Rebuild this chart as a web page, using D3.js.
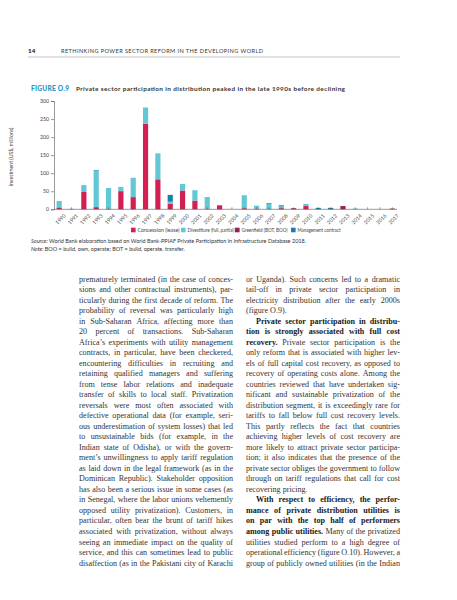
<!DOCTYPE html>
<html>
<head>
<meta charset="utf-8">
<script src="https://cdn.jsdelivr.net/npm/d3@7"></script>
<style>
  body { margin: 0; background: #fff; }
  svg { display: block; }
</style>
</head>
<body>
<div id="page"></div>
<script>
// chart data (US$, millions)
const years = d3.range(1990, 2018).map(String);
const concession  = [5, 1, 48, 6, 2, 49, 32, 237, 83, 16, 52, 24, 2, 11, 0, 3, 2, 0, 0, 0, 9, 0, 0, 0, 0, 0, 0, 0];
const greenfield  = [0, 0, 0, 0, 0, 2, 2, 0, 0, 0, 0, 0, 0, 0, 0, 0, 0, 0, 3, 3, 0, 0, 0, 9, 0, 0, 0, 2];
const divestiture = [18, 0, 19, 100, 57, 11, 52, 45, 72, 5, 18, 29, 32, 0, 0, 36, 8, 15, 5, 0, 6, 0, 0, 0, 2, 0, 0, 0];
const management  = [0, 0, 0, 2, 0, 0, 1, 0, 0, 19, 0, 0, 0, 0, 0, 0, 0, 2, 3, 0, 0, 4, 4, 0, 0, 0, 0, 0];
const yTicks = [0, 50, 100, 150, 200, 250, 300];

const seriesKeys = ["concession", "greenfield", "divestiture", "management"];
const legendKeys = ["concession", "divestiture", "greenfield", "management"];
const legendLabels = {
  concession: "Concession (lease)",
  divestiture: "Divestiture (full, partial)",
  greenfield: "Greenfield (BOT, BOO)",
  management: "Management contract"
};
const colors = {
  concession: "#d31f52",
  divestiture: "#62c8d6",
  greenfield: "#9c2049",
  management: "#1b7fa8"
};

// body text, one entry per printed line; **...** is bold
const leftLines = [
  "prematurely terminated (in the case of conces-",
  "sions and other contractual instruments), par-",
  "ticularly during the first decade of reform. The",
  "probability of reversal was particularly high",
  "in Sub-Saharan Africa, affecting more than",
  "20 percent of transactions. Sub-Saharan",
  "Africa’s experiments with utility management",
  "contracts, in particular, have been checkered,",
  "encountering difficulties in recruiting and",
  "retaining qualified managers and suffering",
  "from tense labor relations and inadequate",
  "transfer of skills to local staff. Privatization",
  "reversals were most often associated with",
  "defective operational data (for example, seri-",
  "ous underestimation of system losses) that led",
  "to unsustainable bids (for example, in the",
  "Indian state of Odisha), or with the govern-",
  "ment’s unwillingness to apply tariff regulation",
  "as laid down in the legal framework (as in the",
  "Dominican Republic). Stakeholder opposition",
  "has also been a serious issue in some cases (as",
  "in Senegal, where the labor unions vehemently",
  "opposed utility privatization). Customers, in",
  "particular, often bear the brunt of tariff hikes",
  "associated with privatization, without always",
  "seeing an immediate impact on the quality of",
  "service, and this can sometimes lead to public",
  "disaffection (as in the Pakistani city of Karachi"
];
const rightLines = [
  "or Uganda). Such concerns led to a dramatic",
  "tail-off in private sector participation in",
  "electricity distribution after the early 2000s",
  "(figure O.9).|last",
  "**Private sector participation in distribu-**|indent",
  "**tion is strongly associated with full cost**",
  "**recovery.** Private sector participation is the",
  "only reform that is associated with higher lev-",
  "els of full capital cost recovery, as opposed to",
  "recovery of operating costs alone. Among the",
  "countries reviewed that have undertaken sig-",
  "nificant and sustainable privatization of the",
  "distribution segment, it is exceedingly rare for",
  "tariffs to fall below full cost recovery levels.",
  "This partly reflects the fact that countries",
  "achieving higher levels of cost recovery are",
  "more likely to attract private sector participa-",
  "tion; it also indicates that the presence of the",
  "private sector obliges the government to follow",
  "through on tariff regulations that call for cost",
  "recovering pricing.|last",
  "**With respect to efficiency, the perfor-**|indent",
  "**mance of private distribution utilities is**",
  "**on par with the top half of performers**",
  "**among public utilities.** Many of the privatized",
  "utilities studied perform to a high degree of",
  "operational efficiency (figure O.10). However, a",
  "group of publicly owned utilities (in the Indian"
];

const width = 457, height = 600;
const sans = "Lato, 'Open Sans', sans-serif";
const serif = "'Liberation Serif', 'Times New Roman', serif";

const svg = d3.select("#page").append("svg")
    .attr("width", width)
    .attr("height", height);

// running header
svg.append("text")
    .attr("x", 28).attr("y", 53)
    .style("font-family", sans).style("font-weight", 900)
    .style("font-size", "6.3px").attr("fill", "#222")
    .text("14");
svg.append("text")
    .attr("x", 61).attr("y", 53)
    .attr("textLength", 202).attr("lengthAdjust", "spacing")
    .style("font-family", sans).style("font-size", "5.6px")
    .attr("fill", "#333")
    .text("RETHINKING POWER SECTOR REFORM IN THE DEVELOPING WORLD");
svg.append("line")
    .attr("x1", 28).attr("x2", 400).attr("y1", 57).attr("y2", 57)
    .attr("stroke", "#bbb").attr("stroke-width", 0.9);

// figure title
svg.append("text")
    .attr("x", 31).attr("y", 91)
    .attr("textLength", 38).attr("lengthAdjust", "spacing")
    .style("font-family", sans).style("font-weight", 900)
    .style("font-size", "6.6px").attr("fill", "#2595c4")
    .text("FIGURE O.9");
svg.append("text")
    .attr("x", 76).attr("y", 91)
    .attr("textLength", 269).attr("lengthAdjust", "spacing")
    .style("font-family", sans).style("font-weight", 700)
    .style("font-size", "6.4px").attr("fill", "#333")
    .text("Private sector participation in distribution peaked in the late 1990s before declining");

// chart
const x = d3.scaleBand().domain(years).range([53.5, 398])
    .paddingInner(0.58).paddingOuter(0.25);
const y = d3.scaleLinear().domain([0, 300]).range([209.3, 101]);

const table = years.map((yr, i) => ({
  year: yr,
  concession: concession[i],
  greenfield: greenfield[i],
  divestiture: divestiture[i],
  management: management[i]
}));
const stacked = d3.stack().keys(seriesKeys)(table);

svg.append("g").selectAll("g")
  .data(stacked)
  .join("g")
    .attr("fill", d => colors[d.key])
  .selectAll("rect")
  .data(d => d)
  .join("rect")
    .attr("x", d => x(d.data.year))
    .attr("width", x.bandwidth())
    .attr("y", d => y(d[1]))
    .attr("height", d => y(d[0]) - y(d[1]));

const yAxis = svg.append("g")
    .attr("transform", "translate(54,0)")
    .call(d3.axisLeft(y).tickValues(yTicks).tickSize(3).tickPadding(2));
const xAxis = svg.append("g")
    .attr("transform", "translate(0,209.3)")
    .call(d3.axisBottom(x).tickSize(2).tickSizeOuter(0).tickPadding(2));
[yAxis, xAxis].forEach(a => {
  a.select(".domain").attr("stroke", "#555").attr("stroke-width", 0.6);
  a.selectAll(".tick line").attr("stroke", "#555").attr("stroke-width", 0.6);
  a.selectAll("text").style("font-family", sans).style("font-size", "5.2px")
    .attr("fill", "#444");
});
xAxis.select(".domain").attr("d", "M54,0H397");
xAxis.selectAll(".tick line").attr("y2", -2);
xAxis.selectAll(".tick text")
    .attr("text-anchor", "end")
    .attr("dy", "0.3em")
    .attr("transform", "translate(3,3) rotate(-45)");

svg.append("text")
    .attr("transform", "translate(13,157) rotate(-90)")
    .attr("text-anchor", "middle")
    .style("font-family", sans).style("font-size", "5.2px")
    .attr("fill", "#444")
    .text("Investment (US$, millions)");

// legend
const legendX = [131, 181, 235, 291];
const legendW = [42, 47, 46, 43];
const legend = svg.append("g").selectAll("g")
  .data(legendKeys)
  .join("g")
    .attr("transform", (d, i) => `translate(${legendX[i]},230)`);
legend.append("rect")
    .attr("x", 0).attr("y", -2.3).attr("width", 4.6).attr("height", 4.6)
    .attr("fill", d => colors[d]);
legend.append("text")
    .attr("x", 6.5).attr("y", 1.8)
    .attr("textLength", (d, i) => legendW[i]).attr("lengthAdjust", "spacingAndGlyphs")
    .style("font-family", sans).style("font-size", "5px")
    .attr("fill", "#444")
    .text(d => legendLabels[d]);

// source and note
const src = svg.append("text").attr("x", 31).attr("y", 243)
    .style("font-family", sans).style("font-size", "5.5px").attr("fill", "#333");
src.append("tspan").style("font-style", "italic").text("Source: ");
src.append("tspan").text("World Bank elaboration based on World Bank-PPIAF Private Participation in Infrastructure Database 2018.");
const note = svg.append("text").attr("x", 31).attr("y", 250.5)
    .style("font-family", sans).style("font-size", "5.5px").attr("fill", "#333");
note.append("tspan").style("font-style", "italic").text("Note: ");
note.append("tspan").text("BOO = build, own, operate; BOT = build, operate, transfer.");

// justified body text
const bodySize = 8.1;
const measure = svg.append("text").style("font-family", serif)
    .style("font-size", bodySize + "px").attr("opacity", 0);
function wordWidth(w, bold) {
  measure.style("font-weight", bold ? 700 : 400).text(w);
  return measure.node().getComputedTextLength();
}
function drawColumn(lines, x0, colW, y0, lh) {
  const g = svg.append("g");
  lines.forEach((raw, li) => {
    const [body, flag] = raw.split("|");
    const indent = flag === "indent" ? 10 : 0;
    const justify = flag !== "last";
    const words = [];
    body.split("**").forEach((chunk, ci) => {
      chunk.split(" ").filter(s => s.length).forEach(w => {
        words.push({ w, bold: ci % 2 === 1 });
      });
    });
    words.forEach(d => d.width = wordWidth(d.w, d.bold));
    const total = d3.sum(words, d => d.width);
    const space = wordWidth("a a", false) - wordWidth("aa", false);
    const gap = justify && words.length > 1
      ? (colW - indent - total) / (words.length - 1) : space;
    let cx = x0 + indent;
    const yy = y0 + li * lh;
    words.forEach(d => {
      g.append("text")
          .attr("x", cx).attr("y", yy)
          .style("font-family", serif)
          .style("font-size", bodySize + "px")
          .style("font-weight", d.bold ? 700 : 400)
          .attr("fill", d.bold ? "#1a1a1a" : "#333")
          .text(d.w);
      cx += d.width + gap;
    });
  });
}
drawColumn(leftLines, 79, 154, 281.5, 10.52);
drawColumn(rightLines, 246, 154, 281.5, 10.52);
measure.remove();
</script>
</body>
</html>
